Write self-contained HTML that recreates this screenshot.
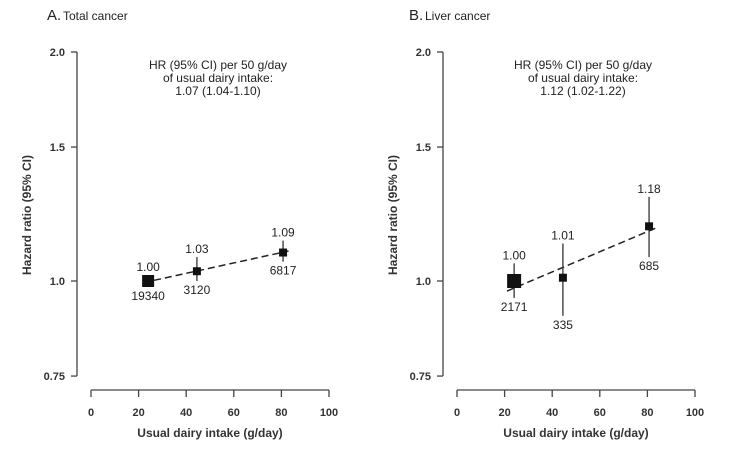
<!DOCTYPE html>
<html><head><meta charset="utf-8"><style>
body{margin:0;background:#fff}
svg{display:block;font-family:"Liberation Sans",Arial,sans-serif}
</style></head><body>
<svg id="c" width="735" height="454"></svg>
<script>
const categories=["Q1","Q2","Q3"];
const xA=[24,44.5,80.7], hrA=[1.00,1.03,1.09], loA=[0.985,1.0,1.06], hiA=[1.015,1.075,1.13], nA=["19340","3120","6817"], szA=[12,8,8];
const hrLabA=["1.00","1.03","1.09"];
const fitXA=[22,83], fitYA=[0.995,1.095];
const xB=[24,44.5,80.7], hrB=[1.00,1.01,1.18], loB=[0.95,0.90,1.075], hiB=[1.055,1.12,1.29], nB=["2171","335","685"], szB=[14,8,8];
const hrLabB=["1.00","1.01","1.18"];
const fitXB=[21,83.6], fitYB=[0.97,1.174];
const yTicks=[2.0,1.5,1.0,0.75], yTickLab=["2.0","1.5","1.0","0.75"];
const xTicks=[0,20,40,60,80,100];
const NS="http://www.w3.org/2000/svg", svg=document.getElementById('c');
function el(t,a,p,txt){const e=document.createElementNS(NS,t);for(const k in a)e.setAttribute(k,a[k]);if(txt!=null)e.textContent=txt;(p||svg).appendChild(e);return e;}
function panel(o){
 const g=el('g',{});
 
 
 const X=v=>o.x0+v*2.38, Y=v=>281-330.4*Math.log(v);
 let t=el('text',{x:o.tx,y:20,'font-size':15,fill:'#222'},g,o.letter);
 
 t=el('text',{x:o.tx+16,y:20,'font-size':12,fill:'#222'},g,o.title);
 
 let a=el('line',{x1:o.ax,x2:o.ax,y1:Y(2),y2:Y(0.75),stroke:'#444','stroke-width':1.3},g);
 
 yTicks.forEach((v,i)=>{el('line',{x1:o.ax-6,x2:o.ax,y1:Y(v),y2:Y(v),stroke:'#444','stroke-width':1.3},g);
  const l=el('text',{x:o.ax-12,y:Y(v)+4,'font-size':11,'font-weight':'bold','text-anchor':'end',fill:'#333'},g,yTickLab[i]);
  });
 a=el('line',{x1:X(0),x2:X(100),y1:390,y2:390,stroke:'#444','stroke-width':1.3},g);
 
 xTicks.forEach(v=>{el('line',{x1:X(v),x2:X(v),y1:390,y2:397,stroke:'#444','stroke-width':1.3},g);
  const l=el('text',{x:X(v),y:416,'font-size':11,'font-weight':'bold','text-anchor':'middle',fill:'#333'},g,String(v));
  });
 t=el('text',{x:X(50),y:437,'font-size':12,'font-weight':'bold','text-anchor':'middle',fill:'#333'},g,'Usual dairy intake (g/day)');
 
 t=el('text',{transform:`translate(${o.ax-46},215) rotate(-90)`,'font-size':12,'font-weight':'bold','text-anchor':'middle',fill:'#333'},g,'Hazard ratio (95% CI)');
 
 o.note.forEach((s,i)=>{const n=el('text',{x:o.nx,y:69+i*13,'font-size':12,'text-anchor':'middle',fill:'#222'},g,s);
  });
 const f=el('line',{x1:X(o.fx[0]),x2:X(o.fx[1]),y1:Y(o.fy[0]),y2:Y(o.fy[1]),stroke:'#222','stroke-width':1.5,'stroke-dasharray':'7,4'},g);
 
 o.xs.forEach((xv,i)=>{
  const ci=el('line',{x1:X(xv),x2:X(xv),y1:Y(o.hi[i]),y2:Y(o.lo[i]),stroke:'#333','stroke-width':1.3},g);
  
  const s=o.sz[i];
  const r=el('rect',{x:X(xv)-s/2,y:Y(o.hr[i])-s/2,width:s,height:s,fill:'#111'},g);
  
  const top=Math.min(Y(o.hi[i]),Y(o.hr[i])-s/2), bot=Math.max(Y(o.lo[i]),Y(o.hr[i])+s/2);
  const l1=el('text',{x:X(xv),y:top-4,'font-size':12,'text-anchor':'middle',fill:'#222'},g,o.lab[i]);
  
  const l2=el('text',{x:X(xv),y:bot+13,'font-size':12,'text-anchor':'middle',fill:'#222'},g,o.n[i]);
  
 });
}
panel({name:'panel-total-cancer',letter:'A.',title:'Total cancer',tx:47,ax:77,x0:91,nx:218,
 note:['HR (95% CI) per 50 g/day','of usual dairy intake:','1.07 (1.04-1.10)'],
 xs:xA,hr:hrA,lo:loA,hi:hiA,n:nA,sz:szA,lab:hrLabA,fx:fitXA,fy:fitYA});
panel({name:'panel-liver-cancer',letter:'B.',title:'Liver cancer',tx:409,ax:443,x0:457,nx:583,
 note:['HR (95% CI) per 50 g/day','of usual dairy intake:','1.12 (1.02-1.22)'],
 xs:xB,hr:hrB,lo:loB,hi:hiB,n:nB,sz:szB,lab:hrLabB,fx:fitXB,fy:fitYB});
</script>
</body></html>
